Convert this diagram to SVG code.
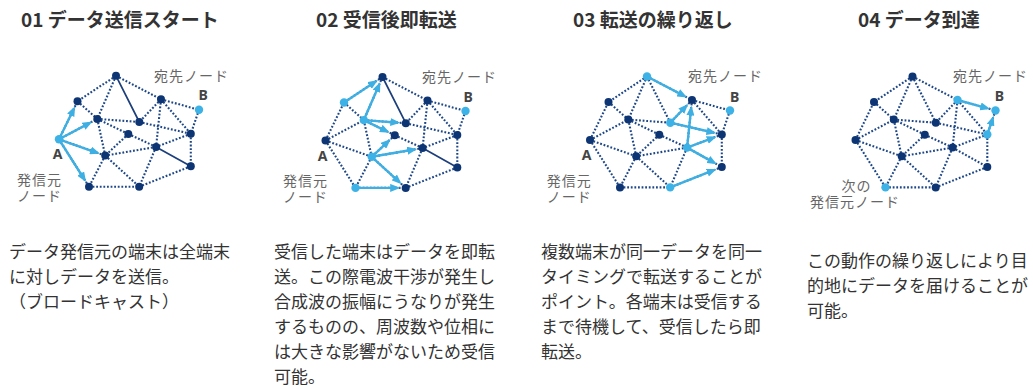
<svg xmlns="http://www.w3.org/2000/svg" width="1033" height="389" viewBox="0 0 1033 389">
<defs>
<style>
text{font-family:"Noto Sans CJK JP","Noto Sans",sans-serif}
.ttl{font-size:19px;font-weight:700;fill:#333}
.body{font-size:17px;fill:#333}
.lbl{font-size:14px;letter-spacing:1px;fill:#666;font-family:"Liberation Sans","Noto Sans CJK JP",sans-serif}
.ab{font-size:14px;font-weight:700;fill:#444;font-family:"Noto Sans","Liberation Sans",sans-serif}
.e{fill:none;stroke:#1d4788;stroke-width:2.1;stroke-dasharray:1.8 1.8}
.s{fill:none;stroke:#1c3f7c;stroke-width:1.7}
.ar{fill:none;stroke:#3eafe2;stroke-width:2.4;marker-end:url(#ah)}
.dk{fill:#0d3574}
.lt{fill:#3db2e6}
</style>
<marker id="ah" viewBox="0 0 10 8" markerWidth="10" markerHeight="8" refX="5.5" refY="4" orient="auto" markerUnits="userSpaceOnUse">
<path d="M0,0 L10,4 L0,8 z" fill="#3eafe2"/>
</marker>
</defs>
<rect width="1033" height="389" fill="#fff"/>

<text class="ttl" x="21" y="27">01 データ送信スタート</text>
<text class="ttl" x="316" y="27">02 受信後即転送</text>
<text class="ttl" x="573" y="27">03 転送の繰り返し</text>
<text class="ttl" x="858" y="27">04 データ到達</text>

<g class="body">
<text x="9" y="258">データ発信元の端末は全端末</text>
<text x="9" y="283">に対しデータを送信。</text>
<text x="9" y="308">（ブロードキャスト）</text>
</g>
<g class="body">
<text x="274" y="258">受信した端末はデータを即転</text>
<text x="274" y="283">送。この際電波干渉が発生し</text>
<text x="274" y="308">合成波の振幅にうなりが発生</text>
<text x="274" y="333">するものの、周波数や位相に</text>
<text x="274" y="358">は大きな影響がないため受信</text>
<text x="274" y="383">可能。</text>
</g>
<g class="body">
<text x="541" y="258">複数端末が同一データを同一</text>
<text x="541" y="283">タイミングで転送することが</text>
<text x="541" y="308">ポイント。各端末は受信する</text>
<text x="541" y="333">まで待機して、受信したら即</text>
<text x="541" y="358">転送。</text>
</g>
<g class="body">
<text x="807" y="267">この動作の繰り返しにより目</text>
<text x="807" y="292">的地にデータを届けることが</text>
<text x="807" y="317">可能。</text>
</g>

<!-- Diagram 1 -->
<g id="d1" transform="translate(59,139.3)">
<g id="d1-connectors">
<path class="e" d="M0 0L18.5 -38M0 0L38.3 -20.4M0 0L46.2 16.3M0 0L30 47.4M57 -63.5L18.5 -38M57 -63.5L102 -40M57 -63.5L38.3 -20.4M18.5 -38L38.3 -20.4M102 -40L140 -29.5M102 -40L80.3 -17.3M102 -40L131.8 -5.5M102 -40L97.1 7.6M140 -29.5L131.8 -5.5M38.3 -20.4L80.3 -17.3M38.3 -20.4L69.3 -5.3M38.3 -20.4L46.2 16.3M80.3 -17.3L131.8 -5.5M69.3 -5.3L97.1 7.6M69.3 -5.3L46.2 16.3M131.8 -5.5L97.1 7.6M131.8 -5.5L131.8 27M97.1 7.6L46.2 16.3M97.1 7.6L80.2 47.4M46.2 16.3L30 47.4M46.2 16.3L80.2 47.4M131.8 27L80.2 47.4M30 47.4L80.2 47.4"/>
<path class="s" d="M57 -63.5L80.3 -17.3M97.1 7.6L131.8 27"/>
<path class="ar" d="M0 0L14.12 -29.01"/>
<path class="ar" d="M0 0L29.47 -15.7"/>
<path class="ar" d="M0 0L36.77 12.97"/>
<path class="ar" d="M0 0L24.65 38.95"/>
</g>
<g id="d1-a"><circle class="lt" cx="0" cy="0" r="4.2"/><text class="ab" x="-6.3" y="20.2">A</text><text class="lbl" x="-42" y="45.5">発信元</text><text class="lbl" x="-42" y="61.5">ノード</text></g>
<g id="d1-n1"><circle class="dk" cx="57" cy="-63.5" r="4"/></g>
<g id="d1-n2"><circle class="dk" cx="18.5" cy="-38" r="4"/></g>
<g id="d1-n3"><circle class="dk" cx="102" cy="-40" r="4"/></g>
<g id="d1-b"><circle class="lt" cx="140" cy="-29.5" r="4.2"/><text class="ab" x="139.5" y="-39.8">B</text><text class="lbl" x="95" y="-58">宛先ノード</text></g>
<g id="d1-n4"><circle class="dk" cx="38.3" cy="-20.4" r="4"/></g>
<g id="d1-n5"><circle class="dk" cx="80.3" cy="-17.3" r="4"/></g>
<g id="d1-n6"><circle class="dk" cx="69.3" cy="-5.3" r="4"/></g>
<g id="d1-n7"><circle class="dk" cx="131.8" cy="-5.5" r="4"/></g>
<g id="d1-n8"><circle class="dk" cx="97.1" cy="7.6" r="4"/></g>
<g id="d1-n9"><circle class="dk" cx="46.2" cy="16.3" r="4"/></g>
<g id="d1-n10"><circle class="dk" cx="131.8" cy="27" r="4"/></g>
<g id="d1-n11"><circle class="dk" cx="30" cy="47.4" r="4"/></g>
<g id="d1-n12"><circle class="dk" cx="80.2" cy="47.4" r="4"/></g>
</g>

<!-- Diagram 2 -->
<g id="d2" transform="translate(325.5,140.5)">
<g id="d2-connectors">
<path class="e" d="M0 0L18.5 -38M0 0L38.3 -20.4M0 0L46.2 16.3M0 0L30 47.4M57 -63.5L18.5 -38M57 -63.5L102 -40M57 -63.5L38.3 -20.4M18.5 -38L38.3 -20.4M102 -40L140 -29.5M102 -40L80.3 -17.3M102 -40L131.8 -5.5M102 -40L97.1 7.6M140 -29.5L131.8 -5.5M38.3 -20.4L80.3 -17.3M38.3 -20.4L69.3 -5.3M38.3 -20.4L46.2 16.3M80.3 -17.3L131.8 -5.5M69.3 -5.3L97.1 7.6M69.3 -5.3L46.2 16.3M131.8 -5.5L97.1 7.6M131.8 -5.5L131.8 27M97.1 7.6L46.2 16.3M97.1 7.6L80.2 47.4M46.2 16.3L30 47.4M46.2 16.3L80.2 47.4M131.8 27L80.2 47.4M30 47.4L80.2 47.4"/>
<path class="s" d="M57 -63.5L80.3 -17.3M97.1 7.6L131.8 27"/>
<path class="ar" d="M18.5 -38L48.66 -57.98"/>
<path class="ar" d="M38.3 -20.4L53.02 -54.33"/>
<path class="ar" d="M38.3 -20.4L70.33 -18.04"/>
<path class="ar" d="M38.3 -20.4L60.31 -9.68"/>
<path class="ar" d="M46.2 16.3L62 1.53"/>
<path class="ar" d="M46.2 16.3L87.24 9.28"/>
<path class="ar" d="M46.2 16.3L72.82 40.65"/>
<path class="ar" d="M30 47.4L70.2 47.4"/>
</g>
<g id="d2-a"><circle class="dk" cx="0" cy="0" r="4"/><text class="ab" x="-7.8" y="20">A</text><text class="lbl" x="-42.5" y="45.8">発信元</text><text class="lbl" x="-42.5" y="61.8">ノード</text></g>
<g id="d2-n1"><circle class="dk" cx="57" cy="-63.5" r="4"/></g>
<g id="d2-n2"><circle class="lt" cx="18.5" cy="-38" r="4.2"/></g>
<g id="d2-n3"><circle class="dk" cx="102" cy="-40" r="4"/></g>
<g id="d2-b"><circle class="lt" cx="140" cy="-29.5" r="4.2"/><text class="ab" x="138" y="-39">B</text><text class="lbl" x="96.5" y="-59">宛先ノード</text></g>
<g id="d2-n4"><circle class="lt" cx="38.3" cy="-20.4" r="4.2"/></g>
<g id="d2-n5"><circle class="dk" cx="80.3" cy="-17.3" r="4"/></g>
<g id="d2-n6"><circle class="dk" cx="69.3" cy="-5.3" r="4"/></g>
<g id="d2-n7"><circle class="dk" cx="131.8" cy="-5.5" r="4"/></g>
<g id="d2-n8"><circle class="dk" cx="97.1" cy="7.6" r="4"/></g>
<g id="d2-n9"><circle class="lt" cx="46.2" cy="16.3" r="4.2"/></g>
<g id="d2-n10"><circle class="dk" cx="131.8" cy="27" r="4"/></g>
<g id="d2-n11"><circle class="lt" cx="30" cy="47.4" r="4.2"/></g>
<g id="d2-n12"><circle class="dk" cx="80.2" cy="47.4" r="4"/></g>
</g>

<!-- Diagram 3 -->
<g id="d3" transform="translate(590,140)">
<g id="d3-connectors">
<path class="e" d="M0 0L18.5 -38M0 0L38.3 -20.4M0 0L46.2 16.3M0 0L30 47.4M57 -63.5L18.5 -38M57 -63.5L102 -40M57 -63.5L38.3 -20.4M57 -63.5L80.3 -17.3M18.5 -38L38.3 -20.4M102 -40L140 -29.5M102 -40L80.3 -17.3M102 -40L131.8 -5.5M102 -40L97.1 7.6M140 -29.5L131.8 -5.5M38.3 -20.4L80.3 -17.3M38.3 -20.4L69.3 -5.3M38.3 -20.4L46.2 16.3M80.3 -17.3L131.8 -5.5M69.3 -5.3L97.1 7.6M69.3 -5.3L46.2 16.3M131.8 -5.5L97.1 7.6M131.8 -5.5L131.8 27M97.1 7.6L46.2 16.3M97.1 7.6L80.2 47.4M97.1 7.6L131.8 27M46.2 16.3L30 47.4M46.2 16.3L80.2 47.4M131.8 27L80.2 47.4M30 47.4L80.2 47.4"/>
<path class="ar" d="M57 -63.5L93.14 -44.63"/>
<path class="ar" d="M80.3 -17.3L95.09 -32.77"/>
<path class="ar" d="M97.1 7.6L100.98 -30.05"/>
<path class="ar" d="M80.3 -17.3L122.05 -7.73"/>
<path class="ar" d="M97.1 7.6L122.44 -1.97"/>
<path class="ar" d="M97.1 7.6L123.07 22.12"/>
<path class="ar" d="M80.2 47.4L122.5 30.68"/>
</g>
<g id="d3-a"><circle class="dk" cx="0" cy="0" r="4"/><text class="ab" x="-8.3" y="20">A</text><text class="lbl" x="-43.3" y="45.8">発信元</text><text class="lbl" x="-43.3" y="61.8">ノード</text></g>
<g id="d3-n1"><circle class="lt" cx="57" cy="-63.5" r="4.2"/></g>
<g id="d3-n2"><circle class="dk" cx="18.5" cy="-38" r="4"/></g>
<g id="d3-n3"><circle class="dk" cx="102" cy="-40" r="4"/></g>
<g id="d3-b"><circle class="lt" cx="140" cy="-29.5" r="4.2"/><text class="ab" x="140" y="-38">B</text><text class="lbl" x="98" y="-59">宛先ノード</text></g>
<g id="d3-n4"><circle class="dk" cx="38.3" cy="-20.4" r="4"/></g>
<g id="d3-n5"><circle class="lt" cx="80.3" cy="-17.3" r="4.2"/></g>
<g id="d3-n6"><circle class="dk" cx="69.3" cy="-5.3" r="4"/></g>
<g id="d3-n7"><circle class="dk" cx="131.8" cy="-5.5" r="4"/></g>
<g id="d3-n8"><circle class="lt" cx="97.1" cy="7.6" r="4.2"/></g>
<g id="d3-n9"><circle class="dk" cx="46.2" cy="16.3" r="4"/></g>
<g id="d3-n10"><circle class="dk" cx="131.8" cy="27" r="4"/></g>
<g id="d3-n11"><circle class="dk" cx="30" cy="47.4" r="4"/></g>
<g id="d3-n12"><circle class="lt" cx="80.2" cy="47.4" r="4.2"/></g>
</g>

<!-- Diagram 4 -->
<g id="d4" transform="translate(855.5,140)">
<g id="d4-connectors">
<path class="e" d="M0 0L18.5 -38M0 0L38.3 -20.4M0 0L46.2 16.3M0 0L30 47.4M57 -63.5L18.5 -38M57 -63.5L102 -40M57 -63.5L38.3 -20.4M57 -63.5L80.3 -17.3M18.5 -38L38.3 -20.4M102 -40L140 -29.5M102 -40L80.3 -17.3M102 -40L131.8 -5.5M102 -40L97.1 7.6M140 -29.5L131.8 -5.5M38.3 -20.4L80.3 -17.3M38.3 -20.4L69.3 -5.3M38.3 -20.4L46.2 16.3M80.3 -17.3L131.8 -5.5M69.3 -5.3L97.1 7.6M69.3 -5.3L46.2 16.3M131.8 -5.5L97.1 7.6M131.8 -5.5L131.8 27M97.1 7.6L46.2 16.3M97.1 7.6L80.2 47.4M97.1 7.6L131.8 27M46.2 16.3L30 47.4M46.2 16.3L80.2 47.4M131.8 27L80.2 47.4M30 47.4L80.2 47.4"/>
<path class="ar" d="M102 -40L130.36 -32.16"/>
<path class="ar" d="M131.8 -5.5L136.77 -20.04"/>
</g>
<g id="d4-a"><circle class="dk" cx="0" cy="0" r="4"/></g>
<g id="d4-n1"><circle class="dk" cx="57" cy="-63.5" r="4"/></g>
<g id="d4-n2"><circle class="dk" cx="18.5" cy="-38" r="4"/></g>
<g id="d4-n3"><circle class="lt" cx="102" cy="-40" r="4.2"/></g>
<g id="d4-b"><circle class="lt" cx="140" cy="-29.5" r="4.2"/><text class="ab" x="139.2" y="-39.5">B</text><text class="lbl" x="97.5" y="-59">宛先ノード</text></g>
<g id="d4-n4"><circle class="dk" cx="38.3" cy="-20.4" r="4"/></g>
<g id="d4-n5"><circle class="dk" cx="80.3" cy="-17.3" r="4"/></g>
<g id="d4-n6"><circle class="dk" cx="69.3" cy="-5.3" r="4"/></g>
<g id="d4-n7"><circle class="lt" cx="131.8" cy="-5.5" r="4.2"/></g>
<g id="d4-n8"><circle class="dk" cx="97.1" cy="7.6" r="4"/></g>
<g id="d4-n9"><circle class="dk" cx="46.2" cy="16.3" r="4"/></g>
<g id="d4-n10"><circle class="dk" cx="131.8" cy="27" r="4"/></g>
<g id="d4-n11"><circle class="lt" cx="30" cy="47.4" r="4.2"/><text class="lbl" x="-14" y="51">次の</text><text class="lbl" x="-45.5" y="67">発信元ノード</text></g>
<g id="d4-n12"><circle class="dk" cx="80.2" cy="47.4" r="4"/></g>
</g>
</svg>
